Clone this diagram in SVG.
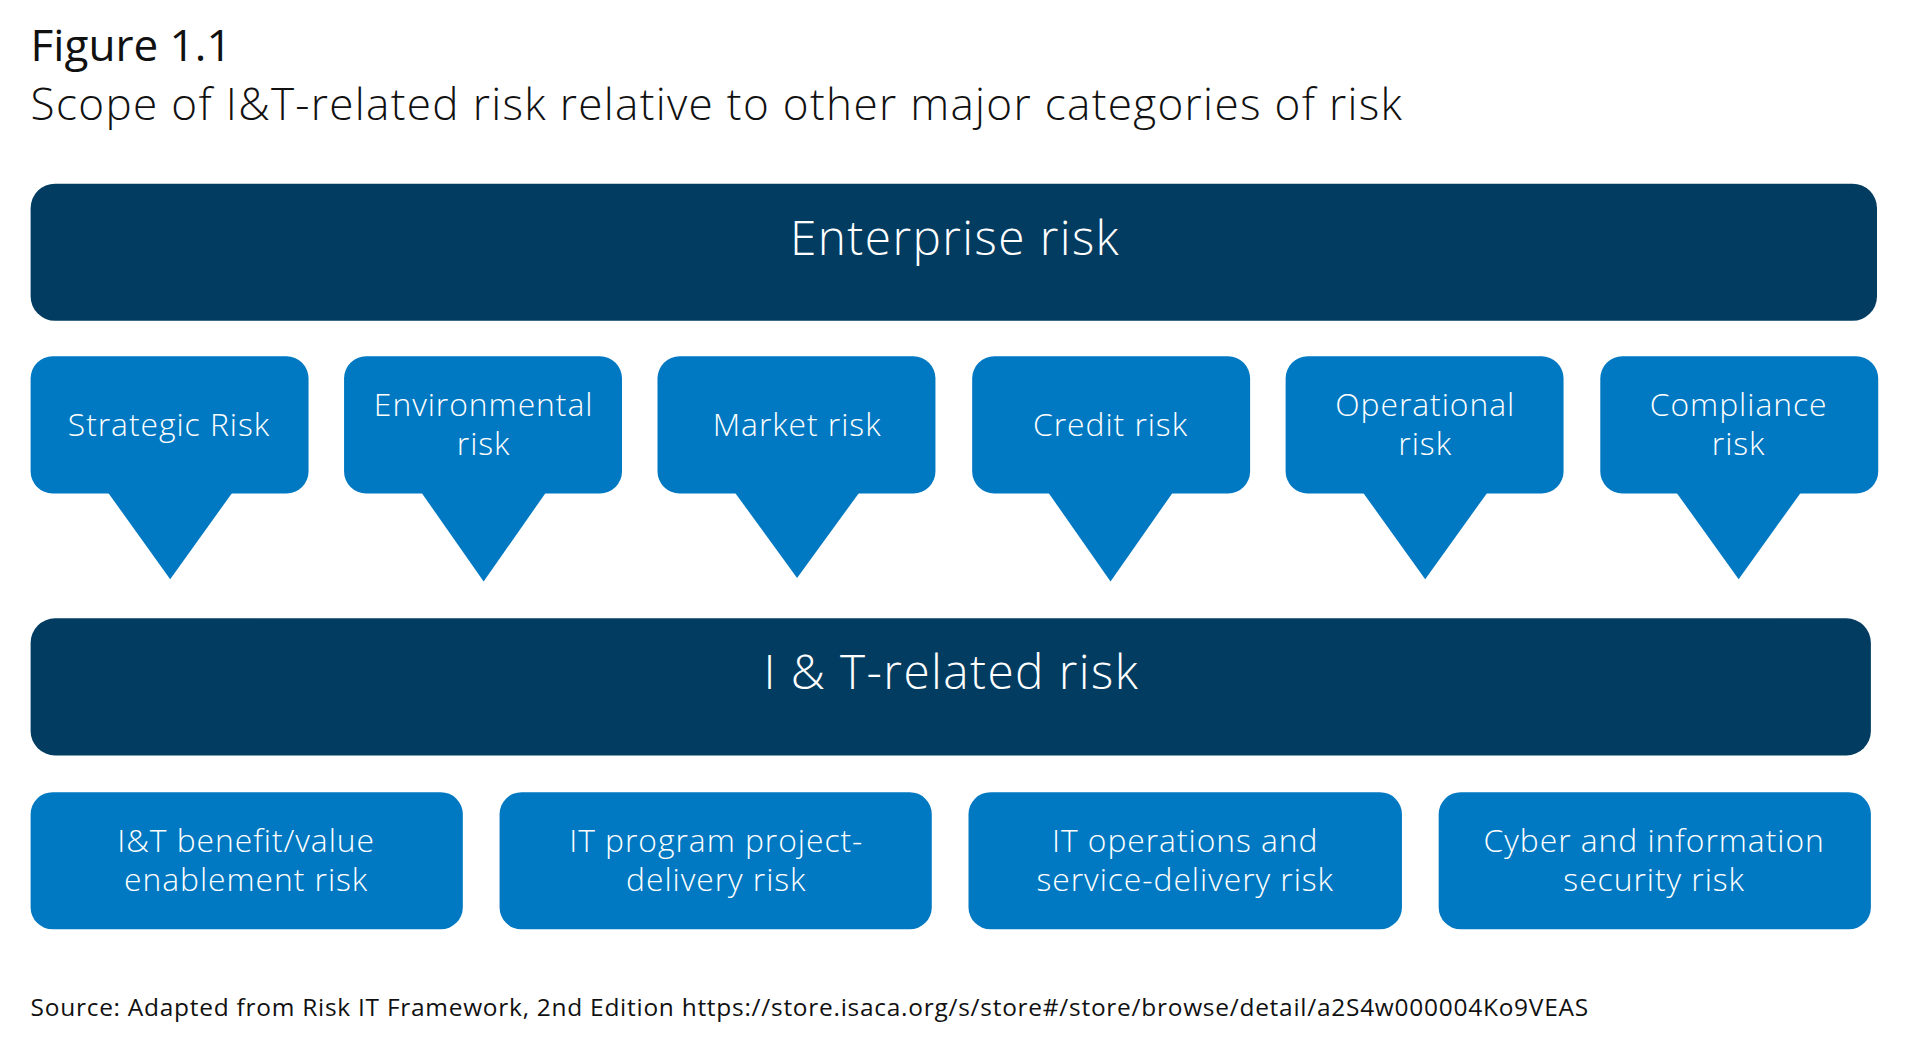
<svg xmlns="http://www.w3.org/2000/svg" width="1920" height="1041" viewBox="0 0 1920 1041">
<style>
text{font-family:"Open Sans","Noto Sans",sans-serif;font-weight:300;letter-spacing:0.03em}
.dark{fill:#023c61}
.blue{fill:#0079c2}
.big{font-size:39px;fill:#fff;text-anchor:middle}
.mid{font-size:26px;fill:#fff;text-anchor:middle}
</style>
<rect width="1920" height="1041" fill="#fff"/>
<g transform="scale(1.2244)">
<text x="25" y="50" font-size="36" fill="#111" style="font-weight:400;letter-spacing:0">Figure 1.1</text>
<text x="25" y="98" font-size="36" fill="#111">Scope of I&amp;T-related risk relative to other major categories of risk</text>
<g id="enterprise"><rect class="dark" x="25" y="150" width="1508" height="112" rx="20"/><text class="big" x="780" y="208">Enterprise risk</text></g>
<g id="strategic"><rect class="blue" x="25" y="291" width="227" height="112" rx="18"/><polygon class="blue" points="88,402 190,402 139,473"/><text class="mid" x="138" y="356">Strategic Risk</text></g>
<g id="environmental"><rect class="blue" x="281" y="291" width="227" height="112" rx="18"/><polygon class="blue" points="344,402 446,402 395,475"/><text class="mid" x="395" y="340">Environmental</text><text class="mid" x="395" y="372">risk</text></g>
<g id="market"><rect class="blue" x="537" y="291" width="227" height="112" rx="18"/><polygon class="blue" points="600,402 702,402 651,472"/><text class="mid" x="651" y="356">Market risk</text></g>
<g id="credit"><rect class="blue" x="794" y="291" width="227" height="112" rx="18"/><polygon class="blue" points="856,402 958,402 907,475"/><text class="mid" x="907" y="356">Credit risk</text></g>
<g id="operational"><rect class="blue" x="1050" y="291" width="227" height="112" rx="18"/><polygon class="blue" points="1113,402 1215,402 1164,473"/><text class="mid" x="1164" y="340">Operational</text><text class="mid" x="1164" y="372">risk</text></g>
<g id="compliance"><rect class="blue" x="1307" y="291" width="227" height="112" rx="18"/><polygon class="blue" points="1369,402 1471,402 1420,473"/><text class="mid" x="1420" y="340">Compliance</text><text class="mid" x="1420" y="372">risk</text></g>
<g id="it-risk"><rect class="dark" x="25" y="505" width="1503" height="112" rx="20"/><text class="big" x="777" y="563">I &amp; T-related risk</text></g>
<g id="benefit"><rect class="blue" x="25" y="647" width="353" height="112" rx="18"/><text class="mid" x="201" y="696">I&amp;T benefit/value</text><text class="mid" x="201" y="728">enablement risk</text></g>
<g id="program"><rect class="blue" x="408" y="647" width="353" height="112" rx="18"/><text class="mid" x="585" y="696">IT program project-</text><text class="mid" x="585" y="728">delivery risk</text></g>
<g id="operations"><rect class="blue" x="791" y="647" width="354" height="112" rx="18"/><text class="mid" x="968" y="696">IT operations and</text><text class="mid" x="968" y="728">service-delivery risk</text></g>
<g id="cyber"><rect class="blue" x="1175" y="647" width="353" height="112" rx="18"/><text class="mid" x="1351" y="696">Cyber and information</text><text class="mid" x="1351" y="728">security risk</text></g>
<g id="connectors"></g>
<text x="25" y="830" font-size="20" fill="#111" style="font-weight:400">Source: Adapted from Risk IT Framework, 2nd Edition https://store.isaca.org/s/store#/store/browse/detail/a2S4w000004Ko9VEAS</text>
</g>
</svg>
